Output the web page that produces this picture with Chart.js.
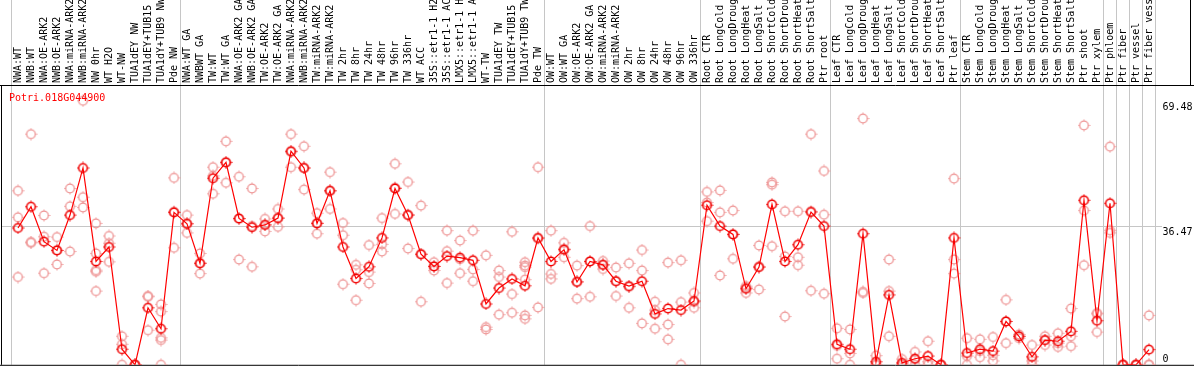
<!DOCTYPE html>
<html>
<head>
<meta charset="utf-8">
<script src="https://cdn.jsdelivr.net/npm/chart.js@4/dist/chart.umd.min.js"></script>
<style>
  body { margin: 0; background: #fff; }
  canvas { display: block; }
</style>
</head>
<body>
<canvas id="chart" width="1194" height="370"></canvas>
<script>
const geneName = 'Potri.018G044900';

const samples = [
  'NWA:WT', 'NWB:WT', 'NWA:OE-ARK2', 'NWB:OE-ARK2', 'NWA:miRNA-ARK2', 'NWB:miRNA-ARK2',
  'NW 0hr', 'WT H2O', 'WT-NW', 'TUA1dEY NW', 'TUA1dEY+TUB15 NW', 'TUA1dY+TUB9 NW', 'Pde NW',
  'NWA:WT GA', 'NWBWT GA', 'TW:WT', 'TW:WT GA', 'NWA:OE-ARK2 GA', 'NWB:OE-ARK2 GA',
  'TW:OE-ARK2', 'TW:OE-ARK2 GA', 'NWA:miRNA-ARK2 GA', 'NWB:miRNA-ARK2 GA', 'TW:miRNA-ARK2',
  'TW:miRNA-ARK2 GA', 'TW 2hr', 'TW 8hr', 'TW 24hr', 'TW 48hr', 'TW 96hr', 'TW 336hr',
  'WT ACC', '35S::etr1-1 H2O', '35S::etr1-1 ACC', 'LMX5::etr1-1 H2O', 'LMX5::etr1-1 ACC',
  'WT-TW', 'TUA1dEY TW', 'TUA1dEY+TUB15 TW', 'TUA1dY+TUB9 TW', 'Pde TW',
  'OW:WT', 'OW:WT GA', 'OW:OE-ARK2', 'OW:OE-ARK2 GA', 'OW:miRNA-ARK2', 'OW:miRNA-ARK2 GA',
  'OW 2hr', 'OW 8hr', 'OW 24hr', 'OW 48hr', 'OW 96hr', 'OW 336hr',
  'Root CTR', 'Root LongCold', 'Root LongDrought', 'Root LongHeat', 'Root LongSalt',
  'Root ShortCold', 'Root ShortDrought', 'Root ShortHeat', 'Root ShortSalt', 'Ptr root',
  'Leaf CTR', 'Leaf LongCold', 'Leaf LongDrought', 'Leaf LongHeat', 'Leaf LongSalt',
  'Leaf ShortCold', 'Leaf ShortDrought', 'Leaf ShortHeat', 'Leaf ShortSalt', 'Ptr leaf',
  'Stem CTR', 'Stem LongCold', 'Stem LongDrought', 'Stem LongHeat', 'Stem LongSalt',
  'Stem ShortCold', 'Stem ShortDrought', 'Stem ShortHeat', 'Stem ShortSalt', 'Ptr shoot',
  'Ptr xylem', 'Ptr phloem', 'Ptr fiber', 'Ptr vessel', 'Ptr fiber vessel'
];

// index of the first sample of each experiment block (vertical separators)
const groupStarts = [0, 13, 41, 53, 63, 73, 84, 85, 86, 87, 88];

// mean expression per sample
const meanValues = [
  36.0, 41.6, 32.4, 30.1, 39.4, 51.8, 27.2, 31.0, 4.1, 0, 15.0, 9.5, 40.1,
  37.1, 26.7, 49.1, 53.3, 38.5, 36.2, 36.8, 38.6, 56.2, 51.8, 37.2, 45.8, 31.0, 22.7,
  25.8, 33.4, 46.4, 39.4, 29.1, 25.9, 28.6, 28.2, 27.5, 16.0, 20.2, 22.6, 20.8, 33.4,
  27.2, 30.3, 21.8, 27.2, 26.3, 22.0, 20.7, 22.0, 13.4, 14.8, 14.4, 16.8,
  42.0, 36.5, 34.3, 20.0, 25.7, 42.2, 27.2, 31.6, 40.2, 36.5,
  5.4, 4.1, 34.5, 0.8, 18.4, 0.5, 1.6, 2.3, 0, 33.4,
  3.1, 4.1, 3.6, 11.4, 7.5, 2.1, 6.5, 6.2, 8.8, 43.3, 11.6,
  42.5, 0, 0, 4.0
];

// individual replicates per sample
const replicates = [
  [45.8, 38.8, 23.1], [60.7, 32.3, 32.1], [39.3, 33.7, 24.1], [33.6, 30.1, 26.4],
  [46.4, 41.7, 29.8], [69.48, 44.1, 41.4], [37.2, 29.3, 24.9, 24.5, 19.4], [33.9, 32.0, 27.1],
  [7.5, 5.4, 0], [0, 0, 0], [18.1, 17.9, 9.1], [15.9, 14.0, 7.1, 6.5, 0], [49.2, 40.3, 30.8],
  [39.4, 37.2, 34.7], [29.3, 26.8, 24.0], [52.0, 49.7, 45.0], [58.8, 53.2, 47.9],
  [49.5, 38.4, 27.7], [46.4, 36.5, 25.8], [38.4, 36.9, 35.1], [41.0, 38.6, 36.3],
  [60.7, 56.0, 52.0], [57.5, 51.8, 46.1], [39.9, 37.3, 34.5], [50.7, 45.8, 41.0],
  [37.3, 34.1, 21.2], [26.3, 25.0, 17.0], [31.5, 24.4, 21.4], [38.6, 31.7, 29.8],
  [52.9, 46.6, 39.7], [48.1, 39.5, 30.6], [41.9, 29.1, 16.6], [27.0, 25.9, 24.8],
  [35.3, 29.9, 21.5], [32.7, 27.8, 24.1], [35.3, 25.1, 22.0], [28.8, 9.9, 9.3],
  [24.8, 23.1, 13.2], [35.0, 18.6, 13.7], [27.0, 26.1, 25.7, 22.4, 13.0, 12.1], [52.0, 33.2, 15.1],
  [35.3, 23.9, 22.6], [32.1, 30.5, 28.3], [26.1, 21.9, 17.4], [36.5, 27.2, 17.9],
  [27.3, 26.3, 25.2], [25.6, 22.0, 18.1], [26.7, 20.5, 15.0], [30.2, 24.8, 10.9],
  [16.6, 14.4, 9.5], [26.9, 10.6, 6.7], [27.5, 16.5, 0], [18.9, 16.5, 15.0],
  [45.5, 42.7, 37.8], [45.9, 40.1, 23.5], [40.6, 34.4, 27.9], [20.7, 20.3, 18.9],
  [31.4, 25.9, 19.8], [48.0, 47.4, 31.2], [40.4, 28.5, 12.7], [40.4, 28.3, 26.2],
  [60.7, 40.4, 19.5], [51.0, 39.5, 18.7],
  [9.6, 5.0, 1.6], [9.3, 3.0, 0], [64.8, 19.2, 18.9], [2.4, 0, 0], [27.7, 19.4, 7.5],
  [1.5, 0, 0], [3.4, 1.5, 0], [6.2, 0.8, 0], [0, 0, 0], [49.0, 27.7, 24.0],
  [7.0, 2.3, 0], [6.7, 3.6, 2.0], [7.3, 2.5, 1.0], [17.1, 11.4, 5.7], [8.0, 7.5, 7.0],
  [5.2, 1.0, 0], [7.5, 6.5, 5.2], [8.3, 5.7, 4.7], [14.8, 7.5, 4.9], [63.0, 40.6, 26.2],
  [13.6, 13.4, 8.6], [57.4, 35.4, 34.7], [0, 0, 0], [0, 0, 0], [13.0, 0, 0]
];

const yTicks = [0, 36.47, 69.48];
const yMax = 73.63;

const FONT = '10px "DejaVu Sans Mono", monospace';

// round marker with the four small ticks seen on the original plot
function makeMarker(color, width) {
  const c = document.createElement('canvas');
  c.width = 13; c.height = 13;
  const g = c.getContext('2d');
  g.strokeStyle = color;
  g.lineWidth = width;
  g.beginPath();
  g.arc(6.5, 6.5, 4.3, 0, Math.PI * 2);
  g.stroke();
  g.lineWidth = 1;
  g.beginPath();
  g.moveTo(6.5, 0.5); g.lineTo(6.5, 1.8);
  g.moveTo(6.5, 11.2); g.lineTo(6.5, 12.5);
  g.moveTo(0.5, 6.5); g.lineTo(1.8, 6.5);
  g.moveTo(11.2, 6.5); g.lineTo(12.5, 6.5);
  g.stroke();
  return c;
}

const repPoints = [];
replicates.forEach((vals, i) => vals.forEach(v => repPoints.push({ x: i, y: v })));

const decorPlugin = {
  id: 'decor',
  beforeDatasetsDraw(chart) {
    const { ctx, chartArea: a, scales: { x, y } } = chart;
    ctx.save();
    ctx.lineWidth = 1;
    ctx.strokeStyle = '#c6c6c6';
    // horizontal guide at the mid tick
    const gy = Math.round(y.getPixelForValue(yTicks[1])) + 0.5;
    ctx.beginPath();
    ctx.moveTo(2, gy); ctx.lineTo(1162, gy);
    ctx.stroke();
    // block separators, running through the header too
    groupStarts.forEach(k => {
      const px = Math.round(x.getPixelForValue(k - 0.5)) - 0.5;
      ctx.beginPath();
      ctx.moveTo(px, 0); ctx.lineTo(px, a.bottom);
      ctx.stroke();
    });
    // frame
    ctx.strokeStyle = '#000';
    ctx.beginPath();
    ctx.moveTo(0, a.top + 0.5); ctx.lineTo(chart.width, a.top + 0.5);
    ctx.moveTo(0, a.bottom + 0.5); ctx.lineTo(chart.width, a.bottom + 0.5);
    ctx.moveTo(1.5, a.top); ctx.lineTo(1.5, a.bottom);
    ctx.moveTo(1190.5, 0); ctx.lineTo(1190.5, a.top);
    ctx.stroke();
    ctx.restore();
  },
  afterDraw(chart) {
    const { ctx, chartArea: a, scales: { x, y } } = chart;
    ctx.save();
    ctx.font = FONT;
    // sample names, rotated, cut by the top of the canvas
    ctx.fillStyle = '#000';
    ctx.textAlign = 'left';
    ctx.textBaseline = 'alphabetic';
    samples.forEach((name, i) => {
      const px = x.getPixelForValue(i);
      ctx.save();
      ctx.translate(px + 2.5, a.top - 2);
      ctx.rotate(-Math.PI / 2);
      ctx.fillText(name, 0, 0);
      ctx.restore();
    });
    // y labels on the right
    yTicks.forEach(v => {
      const py = y.getPixelForValue(v);
      ctx.fillText(String(v), a.right + 7, v === 0 ? py - 3 : py + 9);
    });
    // gene name
    ctx.fillStyle = '#ff0000';
    ctx.fillText(geneName, 9, a.top + 16);
    ctx.restore();
  }
};

new Chart(document.getElementById('chart'), {
  type: 'line',
  data: {
    labels: samples,
    datasets: [
      {
        label: 'mean',
        data: meanValues,
        borderColor: '#ff0000',
        borderWidth: 1.2,
        tension: 0,
        pointStyle: makeMarker('#f00000', 1.6),
        pointRadius: 4,
        fill: false
      },
      {
        label: 'replicates',
        data: repPoints,
        parsing: false,
        showLine: false,
        pointStyle: makeMarker('#ee9494', 1.3),
        pointRadius: 4
      }
    ]
  },
  options: {
    responsive: false,
    animation: false,
    devicePixelRatio: 1,
    layout: { padding: { top: 85, bottom: 1, left: 11.5, right: 38.5 } },
    plugins: { legend: { display: false }, tooltip: { enabled: false } },
    scales: {
      x: { type: 'category', offset: true, display: false },
      y: { min: 0, max: yMax, display: false }
    }
  },
  plugins: [decorPlugin]
});
</script>
</body>
</html>
